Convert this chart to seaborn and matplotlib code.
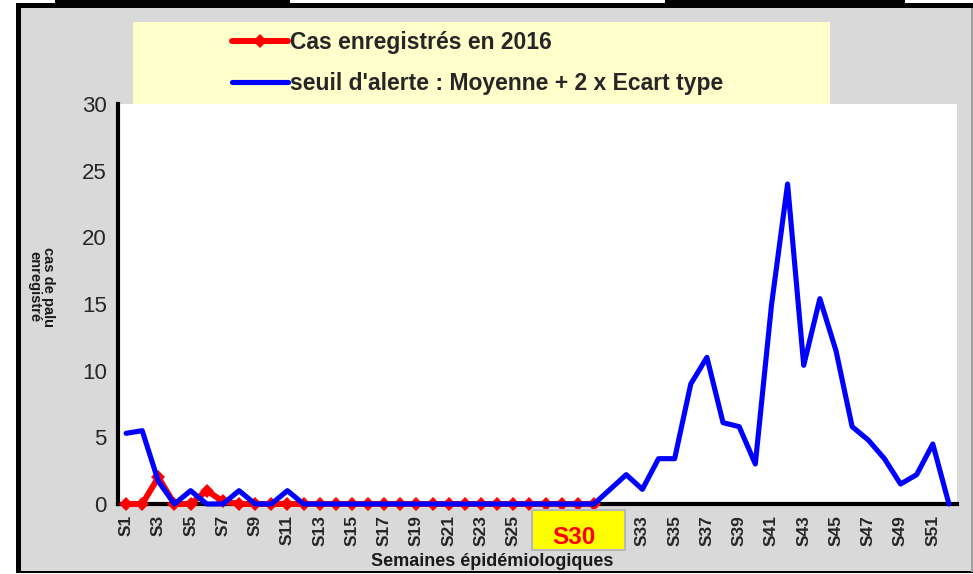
import matplotlib
matplotlib.use("Agg")
import matplotlib.pyplot as plt
from matplotlib.patches import Rectangle
from matplotlib.lines import Line2D
import seaborn as sns
import pandas as pd

weeks = [f"S{i}" for i in range(1, 53)]
cas_2016 = [0, 0, 2.0, 0, 0, 1.0, 0.2, 0, 0, 0,
            0, 0, 0, 0, 0, 0, 0, 0, 0, 0,
            0, 0, 0, 0, 0, 0, 0, 0, 0, 0]
seuil = [5.3, 5.5, 1.7, 0, 1.0, 0, 0, 1.0, 0, 0,
         1.0, 0, 0, 0, 0, 0, 0, 0, 0, 0,
         0, 0, 0, 0, 0, 0, 0, 0, 0, 0,
         1.1, 2.2, 1.1, 3.4, 3.4, 9.0, 11.0, 6.1, 5.8, 3.0,
         14.9, 24.0, 10.4, 15.4, 11.5, 5.8, 4.8, 3.4, 1.5, 2.2,
         4.5, 0]
label_cas = "Cas enregistrés en 2016"
label_seuil = "seuil d'alerte : Moyenne + 2 x Ecart type"
highlight_week = "S30"
hidden_labels = ["S27", "S29", "S31"]
y_ticks = [0, 5, 10, 15, 20, 25, 30]

sns.set_theme(style="white")
plt.rcParams['font.family'] = ['Liberation Sans', 'DejaVu Sans']

W, H = 973, 574
fig = plt.figure(figsize=(W / 100, H / 100), dpi=100)
fig.patch.set_facecolor("white")

def fx(px):
    return px / W

def fy(py):
    return 1 - py / H

def rect(x0, y0, x1, y1, color, z, **kw):
    fig.patches.append(Rectangle((fx(x0), fy(y1)), fx(x1 - x0), (y1 - y0) / H,
                                 transform=fig.transFigure, facecolor=color,
                                 zorder=z, **kw))

# gray chart area and frame
rect(18, 7, 972, 572, "#d9d9d9", -10, edgecolor="none")
rect(16, 3, 973, 8, "black", -5, edgecolor="none")
rect(55, 0, 290, 3, "black", -5, edgecolor="none")
rect(665, 0, 905, 3, "black", -5, edgecolor="none")
rect(16, 3, 21, 573, "black", -5, edgecolor="none")
rect(16, 571, 973, 573, "black", -5, edgecolor="none")
rect(971, 8, 973, 572, "#a0a0a0", -5, edgecolor="none")
# legend background
rect(133, 22, 830, 104, "#ffffcc", -4, edgecolor="none")

ax = fig.add_axes([fx(118), fy(504), fx(957 - 118), (504 - 104) / H])
ax.set_facecolor("white")

df_cas = pd.DataFrame({"idx": range(len(cas_2016)), "val": cas_2016})
df_seuil = pd.DataFrame({"idx": range(len(seuil)), "val": seuil})

sns.lineplot(data=df_cas, x="idx", y="val", ax=ax, color="#ff0000", linewidth=4.3,
             marker="D", markersize=7, markeredgewidth=0, clip_on=False, zorder=3)
sns.lineplot(data=df_seuil, x="idx", y="val", ax=ax, color="#0000ff", linewidth=3.7,
             clip_on=False, zorder=4)

ax.set_xlim(-0.5, 51.5)
ax.set_ylim(0, 30)
ax.set_yticks(y_ticks)
ax.set_yticklabels([str(v) for v in y_ticks], fontsize=16)
tick_pos = list(range(0, 52, 2))
ax.set_xticks(tick_pos)
ax.set_xticklabels([("" if weeks[i] in hidden_labels else weeks[i]) for i in tick_pos],
                   rotation=90, fontsize=12.5, fontweight="bold")
ax.tick_params(axis="both", length=0)
ax.tick_params(axis="x", pad=8)
ax.tick_params(axis="y", pad=8)
for s in ["top", "right"]:
    ax.spines[s].set_visible(False)
for s in ["left", "bottom"]:
    ax.spines[s].set_color("black")
    ax.spines[s].set_linewidth(3)
ax.set_xlabel("")
ax.set_ylabel("")

fig.text(fx(492), fy(562), "Semaines épidémiologiques", ha="center", va="center",
         fontsize=13, fontweight="bold", color="#1a1a1a")
fig.text(fx(41), fy(287), "cas de palu\nenregistré", ha="center", va="center",
         rotation=-90, fontsize=10.5, fontweight="bold", color="#1a1a1a", linespacing=1.0)

# highlighted week box
rect(532, 510, 625, 550, "#ffff00", 5, edgecolor="#b8b8b8", linewidth=1.5)
fig.text(fx(574), fy(538), highlight_week, ha="center", va="center", fontsize=17.5,
         fontweight="bold", color="#ff0000", zorder=6)

handles = [Line2D([], [], color="#ff0000", linewidth=4.3, marker="D", markersize=7,
                  markeredgewidth=0),
           Line2D([], [], color="#0000ff", linewidth=3.7)]
fig.legend(handles, [label_cas, label_seuil], loc="upper left",
           bbox_to_anchor=(fx(232), fy(31)), frameon=False,
           prop={"weight": "bold", "size": 16.5}, handlelength=2.45, handletextpad=0.1,
           labelspacing=0.8, borderaxespad=0, borderpad=0, markerscale=1.0)

fig.savefig("out.png", dpi=100, facecolor=fig.get_facecolor())
